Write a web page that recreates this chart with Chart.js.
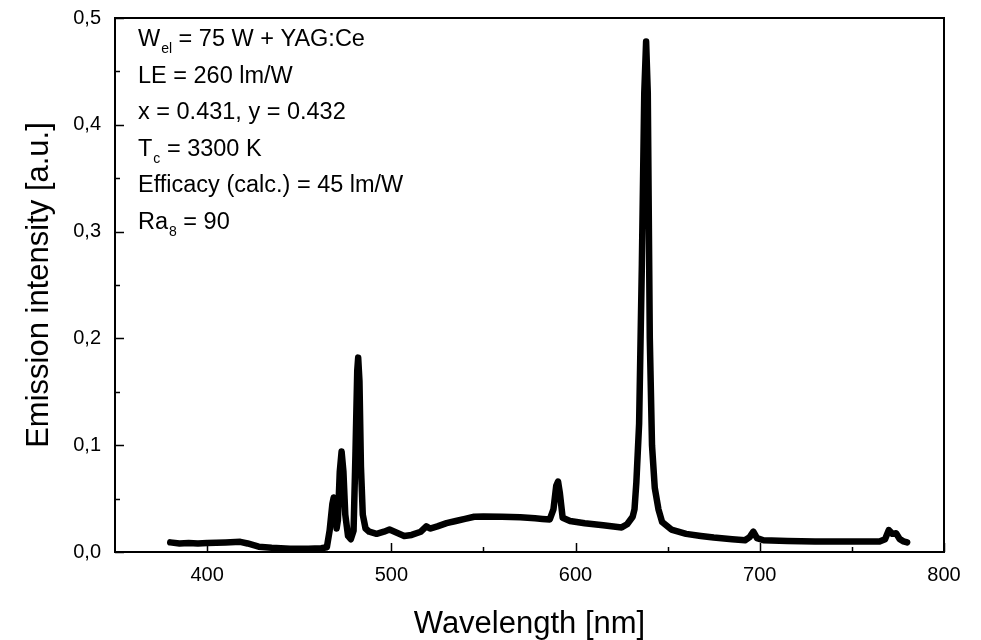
<!DOCTYPE html>
<html>
<head>
<meta charset="utf-8">
<script src="https://cdn.jsdelivr.net/npm/chart.js@4.4.1/dist/chart.umd.min.js"></script>
<style>
  html, body { margin: 0; padding: 0; background: #fff; }
  #wrap { width: 981px; height: 640px; position: relative; }
</style>
</head>
<body>
<div id="wrap"><canvas id="spectrumChart"></canvas></div>
<script>
// Spectrum data
const wavelengths = [
  380, 385, 390, 395, 400, 410, 418, 422, 428, 435, 445, 455, 462, 465,
  466.5, 468, 468.7, 469.5, 470.3, 471, 472, 473, 474, 475, 476.5, 478,
  479.5, 480.5, 481.5, 482, 482.7, 483.5, 484.5, 486, 488, 492, 496, 499,
  503, 507, 511, 516, 519, 521, 525, 530, 535, 540, 545, 550, 560, 570,
  578, 582, 586, 588, 589.5, 590.5, 591.5, 593, 597, 605, 615, 625, 628,
  631, 632, 633, 634.5, 636, 637.3, 638.3, 639.2, 640.3, 641.5, 643, 645,
  647, 652, 660, 668, 675, 685, 692, 694.5, 696.5, 698.5, 702, 715, 730,
  750, 765, 768, 770, 772, 774, 776, 778, 780
];
const intensities = [
  0.009, 0.008, 0.0085, 0.008, 0.0085, 0.009, 0.0095, 0.008, 0.005, 0.004, 0.003, 0.003, 0.0035, 0.0045,
  0.02, 0.045, 0.051, 0.04, 0.022, 0.03, 0.075, 0.094, 0.075, 0.035, 0.015, 0.012,
  0.02, 0.09, 0.17, 0.182, 0.16, 0.08, 0.035, 0.022, 0.019, 0.017, 0.019, 0.021,
  0.018, 0.015, 0.016, 0.019, 0.024, 0.022, 0.024, 0.027, 0.029, 0.031, 0.033, 0.0333, 0.033, 0.0325,
  0.0315, 0.031, 0.0305, 0.04, 0.062, 0.066, 0.055, 0.032, 0.029, 0.027, 0.025, 0.023, 0.026,
  0.033, 0.04, 0.065, 0.12, 0.27, 0.43, 0.478, 0.43, 0.2, 0.1, 0.06, 0.04,
  0.028, 0.021, 0.017, 0.015, 0.0135, 0.012, 0.011, 0.014, 0.019, 0.013, 0.011, 0.0102, 0.0098,
  0.0098, 0.0098, 0.012, 0.0205, 0.017, 0.0175, 0.012, 0.01, 0.009
];

const xTicks = [400, 500, 600, 700, 800];
const xMinor = [450, 550, 650, 750];
const yTicks = [0, 0.1, 0.2, 0.3, 0.4, 0.5];
const yMinor = [0.05, 0.15, 0.25, 0.35, 0.45];

// Text block, upper left (main text, subscript, rest)
const infoLines = [
  ['W', 'el', ' = 75 W + YAG:Ce'],
  ['LE = 260 lm/W', '', ''],
  ['x = 0.431, y = 0.432', '', ''],
  ['T', 'c', ' = 3300 K'],
  ['Efficacy (calc.) = 45 lm/W', '', ''],
  ['Ra', '8', ' = 90']
];

const FONT = '"Liberation Sans", Arial, sans-serif';

// frame, inward ticks and the text block
const framePlugin = {
  id: 'frame',
  afterDatasetsDraw(chart) {
    const { ctx, chartArea: a, scales } = chart;
    ctx.save();
    ctx.strokeStyle = '#000';
    ctx.lineWidth = 2;
    ctx.strokeRect(a.left, a.top, a.right - a.left, a.bottom - a.top);

    ctx.lineWidth = 1.5;
    ctx.beginPath();
    xTicks.concat(xMinor).forEach(v => {
      const px = Math.round(scales.x.getPixelForValue(v)) + 0.5;
      const len = xTicks.includes(v) ? 9 : 5;
      ctx.moveTo(px, a.bottom);
      ctx.lineTo(px, a.bottom - len);
    });
    yTicks.concat(yMinor).forEach(v => {
      const py = Math.round(scales.y.getPixelForValue(v)) + 0.5;
      const len = yTicks.includes(v) ? 9 : 5;
      ctx.moveTo(a.left, py);
      ctx.lineTo(a.left + len, py);
    });
    ctx.stroke();

    ctx.fillStyle = '#000';
    ctx.textBaseline = 'alphabetic';
    infoLines.forEach((ln, i) => {
      let x = a.left + 23;
      const y = a.top + 28 + i * 36.5;
      ctx.font = '23.5px ' + FONT;
      ctx.fillText(ln[0], x, y);
      x += ctx.measureText(ln[0]).width;
      if (ln[1]) {
        ctx.font = '14px ' + FONT;
        ctx.fillText(ln[1], x + 1, y + 7);
        x += ctx.measureText(ln[1]).width + 1;
      }
      if (ln[2]) {
        ctx.font = '23.5px ' + FONT;
        ctx.fillText(ln[2], x, y);
      }
    });
    ctx.restore();
  }
};

new Chart(document.getElementById('spectrumChart'), {
  type: 'line',
  data: {
    datasets: [{
      data: wavelengths.map((w, i) => ({ x: w, y: intensities[i] })),
      borderColor: '#000',
      borderWidth: 6.5,
      borderJoinStyle: 'round',
      borderCapStyle: 'round',
      pointRadius: 0,
      tension: 0,
      fill: false
    }]
  },
  options: {
    responsive: true,
    maintainAspectRatio: false,
    animation: false,
    devicePixelRatio: 1,
    layout: { padding: { top: 18, right: 37, left: 0, bottom: 0 } },
    plugins: { legend: { display: false }, tooltip: { enabled: false } },
    scales: {
      x: {
        type: 'linear',
        min: 350,
        max: 800,
        afterBuildTicks: s => { s.ticks = xTicks.map(v => ({ value: v })); },
        afterFit: s => { s.height = 88; s.paddingLeft = 0; s.paddingRight = 0; },
        grid: { display: false, drawTicks: false },
        border: { display: false },
        ticks: { color: '#000', font: { family: FONT, size: 20 }, padding: 11, maxRotation: 0, autoSkip: false },
        title: {
          display: true,
          text: 'Wavelength [nm]',
          color: '#000',
          font: { family: FONT, size: 31, lineHeight: 1 },
          padding: { top: 0, bottom: 0 }
        }
      },
      y: {
        min: 0,
        max: 0.5,
        afterBuildTicks: s => { s.ticks = yTicks.map(v => ({ value: v })); },
        afterFit: s => { s.width = 115; s.paddingTop = 0; s.paddingBottom = 0; },
        grid: { display: false, drawTicks: false },
        border: { display: false },
        ticks: {
          color: '#000',
          font: { family: FONT, size: 20 },
          padding: 14,
          callback: v => v.toFixed(1).replace('.', ',')
        },
        title: {
          display: true,
          text: 'Emission intensity [a.u.]',
          color: '#000',
          font: { family: FONT, size: 31, lineHeight: 1 },
          padding: { top: 24, bottom: 0 }
        }
      }
    }
  },
  plugins: [framePlugin]
});
</script>
</body>
</html>
